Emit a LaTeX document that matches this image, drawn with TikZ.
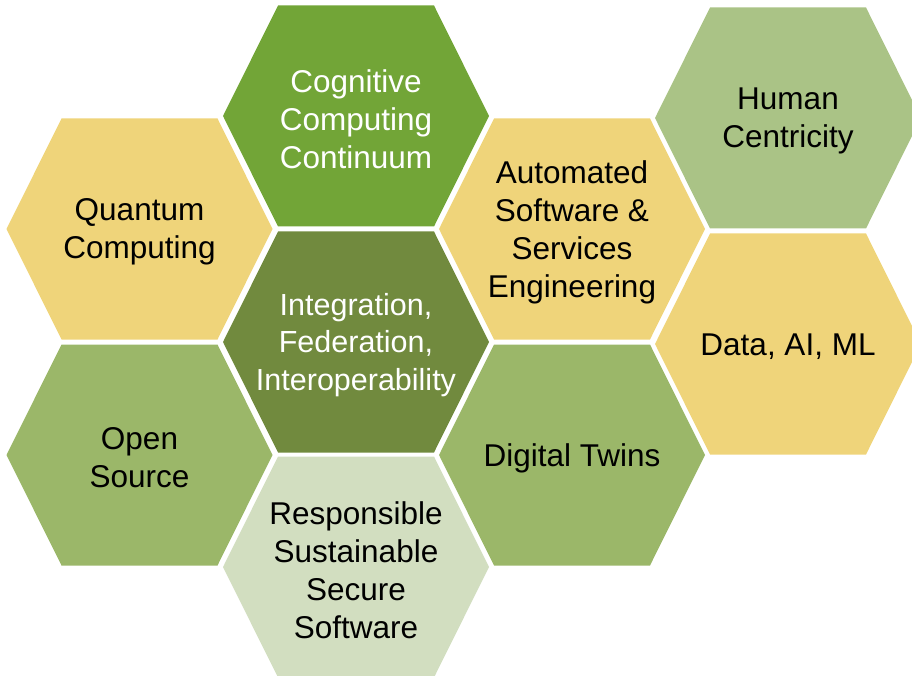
\documentclass[tikz,border=0pt]{standalone}
\usepackage{fontspec}
\setmainfont{Liberation Sans}
\usetikzlibrary{positioning,backgrounds}

\definecolor{cogngreen}{HTML}{72A537}
\definecolor{olivegreen}{HTML}{718A3E}
\definecolor{sandyellow}{HTML}{EFD47A}
\definecolor{sagegreen}{HTML}{AAC386}
\definecolor{leafgreen}{HTML}{9BB769}
\definecolor{palegreen}{HTML}{D2DEC0}

\begin{document}
\begin{tikzpicture}[x=1pt, y=-1pt, on grid,
        hex node/.style={align=center, inner sep=0pt, font=\fontsize{31.5}{38}\selectfont}]
        \useasboundingbox (0,0) rectangle (912,676);

        \node[hex node, text=white, font=\fontsize{30.5}{37.5}\selectfont] (integ) at (356,345) {Integration,\\Federation,\\Interoperability};
        \node[hex node, text=white] (cog) [above=226pt of integ] {Cognitive\\Computing\\Continuum};
        \node[hex node] (resp) [below=225pt of integ] {Responsible\\Sustainable\\Secure\\Software};
        \node[hex node] (quant) [above left=113pt and 216.5pt of integ] {Quantum\\Computing};
        \node[hex node] (open) [below left=113pt and 216.5pt of integ] {Open\\Source};
        \node[hex node] (auto) [above right=113pt and 216pt of integ] {Automated\\Software \&\\Services\\Engineering};
        \node[hex node] (twins) [below right=113pt and 216pt of integ] {Digital Twins};
        \node[hex node] (human) [above right=111pt and 216pt of auto] {Human\\Centricity};
        \node[hex node] (data) [below right=115pt and 216pt of auto] {Data, AI, ML};

        % honeycomb cells behind the labels
        \begin{scope}[on background layer]
            \foreach \n/\c in {integ/olivegreen, cog/cogngreen, resp/palegreen, quant/sandyellow, open/leafgreen,
                    auto/sandyellow, twins/leafgreen, human/sagegreen, data/sandyellow}
                \fill[\c] (\n.center) ++(-133,-3) -- ++(55,-110.5) -- ++(156,0) -- ++(55,110.5) -- ++(-55,110.5) -- ++(-156,0) -- cycle;
        \end{scope}

    \end{tikzpicture}
\end{document}
